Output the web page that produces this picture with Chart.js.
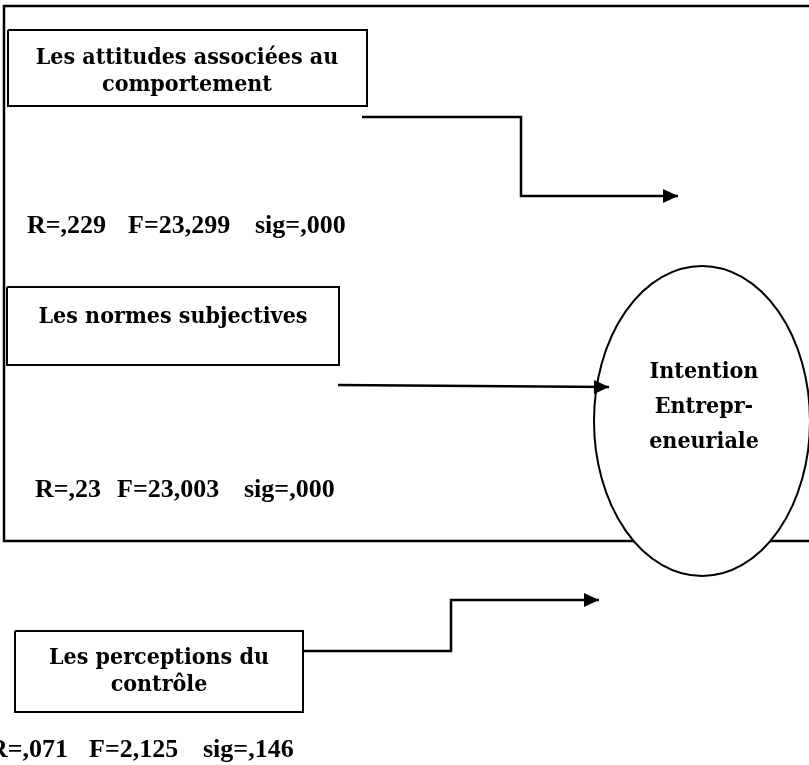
<!DOCTYPE html>
<html>
<head>
<meta charset="utf-8">
<script src="https://cdn.jsdelivr.net/npm/chart.js@4/dist/chart.umd.min.js"></script>
<style>
    html, body { margin: 0; padding: 0; background: #ffffff; }
    #diagram { display: block; }
</style>
</head>
<body>
<canvas id="diagram" width="809" height="765"></canvas>
<script>
// Libellés des blocs (facteurs) et de la variable expliquée
const factorLabels = [
    ['Les attitudes associées au', 'comportement'],
    ['Les normes subjectives'],
    ['Les perceptions du', 'contrôle']
];
const targetLabel = ['Intention', 'Entrepr-', 'eneuriale'];

// Résultats des régressions (R, F, sig)
const statR = ['R=,229', 'R=,23', 'R=,071'];
const statF = ['F=23,299', 'F=23,003', 'F=2,125'];
const statSig = ['sig=,000', 'sig=,000', 'sig=,146'];

// Géométrie du schéma (repère du canevas, y vers le bas)
const framePath = [[809, 6], [4, 6], [4, 541], [809, 541]];
const factorBoxes = [[8, 30, 367, 106], [7, 287, 339, 365], [15, 631, 303, 712]];
const factorTextPos = [[187, 64], [173, 323], [159, 664]];
const arrowPaths = [
    [[362, 117], [521, 117], [521, 196], [678, 196]],
    [[338, 385], [609, 387]],
    [[302, 651], [451, 651], [451, 600], [599, 600]]
];
const targetEllipse = { cx: 702, cy: 421, rx: 108, ry: 155 };
const targetTextPos = [704, 378];
const statPos = [
    [[27, 233], [128, 233], [255, 233]],
    [[35, 497], [117, 497], [244, 497]],
    [[-11, 757], [89, 757], [203, 757]]
];

const LABEL_FONT = 'bold 23px "DejaVu Serif Condensed", "DejaVu Serif", serif';
const STAT_FONT = 'bold 26px "Liberation Serif", serif';

// construire une série de points à partir d'une liste de coordonnées
function toPoints(path) {
    return path.map(p => ({ x: p[0], y: p[1] }));
}

function rectPath(b) {
    return [[b[0], b[1]], [b[2], b[1]], [b[2], b[3]], [b[0], b[3]], [b[0], b[1]]];
}

const datasets = [];

// cadre extérieur (dessiné en premier)
datasets.push({
    label: 'cadre',
    data: toPoints(framePath),
    borderColor: '#000',
    borderWidth: 2.5,
    order: 10,
    clip: false
});

factorBoxes.forEach((b, i) => {
    datasets.push({
        label: 'bloc' + i,
        data: toPoints(rectPath(b)),
        borderColor: '#000',
        borderWidth: 2,
        order: 1
    });
});

arrowPaths.forEach((p, i) => {
    datasets.push({
        label: 'fleche' + i,
        data: toPoints(p),
        borderColor: '#000',
        borderWidth: 2.5,
        order: 0,
        isArrow: true
    });
});

// ellipse blanche par-dessus le cadre
const ellipsePlugin = {
    id: 'ellipsePlugin',
    afterDatasetDraw(chart, args) {
        if (chart.data.datasets[args.index].label !== 'cadre') return;
        const { ctx, scales: { x, y } } = chart;
        const cx = x.getPixelForValue(targetEllipse.cx);
        const cy = y.getPixelForValue(targetEllipse.cy);
        const rx = Math.abs(x.getPixelForValue(targetEllipse.cx + targetEllipse.rx) - cx);
        const ry = Math.abs(y.getPixelForValue(targetEllipse.cy + targetEllipse.ry) - cy);
        ctx.save();
        ctx.beginPath();
        ctx.ellipse(cx, cy, rx, ry, 0, 0, Math.PI * 2);
        ctx.fillStyle = '#fff';
        ctx.fill();
        ctx.lineWidth = 2;
        ctx.strokeStyle = '#000';
        ctx.stroke();
        ctx.restore();
    }
};

// pointes de flèches + textes
const annotationPlugin = {
    id: 'annotationPlugin',
    afterDatasetsDraw(chart) {
        const { ctx, scales: { x, y } } = chart;
        ctx.save();

        chart.data.datasets.forEach(ds => {
            if (!ds.isArrow) return;
            const n = ds.data.length;
            const a = ds.data[n - 2], b = ds.data[n - 1];
            const x1 = x.getPixelForValue(a.x), y1 = y.getPixelForValue(a.y);
            const x2 = x.getPixelForValue(b.x), y2 = y.getPixelForValue(b.y);
            const ang = Math.atan2(y2 - y1, x2 - x1);
            const len = 15, half = 7;
            ctx.beginPath();
            ctx.moveTo(x2, y2);
            ctx.lineTo(x2 - len * Math.cos(ang) + half * Math.sin(ang), y2 - len * Math.sin(ang) - half * Math.cos(ang));
            ctx.lineTo(x2 - len * Math.cos(ang) - half * Math.sin(ang), y2 - len * Math.sin(ang) + half * Math.cos(ang));
            ctx.closePath();
            ctx.fillStyle = '#000';
            ctx.fill();
        });

        ctx.fillStyle = '#000';
        ctx.textBaseline = 'alphabetic';

        // libellés des blocs
        ctx.font = LABEL_FONT;
        ctx.textAlign = 'center';
        factorLabels.forEach((lines, i) => {
            const px = x.getPixelForValue(factorTextPos[i][0]);
            lines.forEach((t, j) => {
                ctx.fillText(t, px, y.getPixelForValue(factorTextPos[i][1] + j * 27));
            });
        });

        // libellé de l'ellipse
        targetLabel.forEach((t, j) => {
            ctx.fillText(t, x.getPixelForValue(targetTextPos[0]), y.getPixelForValue(targetTextPos[1] + j * 35));
        });

        // statistiques
        ctx.font = STAT_FONT;
        ctx.textAlign = 'left';
        statPos.forEach((row, i) => {
            [statR[i], statF[i], statSig[i]].forEach((t, k) => {
                ctx.fillText(t, x.getPixelForValue(row[k][0]), y.getPixelForValue(row[k][1]));
            });
        });

        ctx.restore();
    }
};

new Chart(document.getElementById('diagram'), {
    type: 'scatter',
    data: { datasets },
    options: {
        responsive: false,
        devicePixelRatio: 1,
        animation: false,
        showLine: true,
        elements: {
            point: { radius: 0, hoverRadius: 0 },
            line: { tension: 0, fill: false, borderJoinStyle: 'miter', borderCapStyle: 'butt' }
        },
        layout: { padding: 0 },
        scales: {
            x: { type: 'linear', min: 0, max: 809, display: false },
            y: { type: 'linear', min: 0, max: 765, reverse: true, display: false }
        },
        plugins: {
            legend: { display: false },
            tooltip: { enabled: false }
        },
        events: []
    },
    plugins: [ellipsePlugin, annotationPlugin]
});
</script>
</body>
</html>
